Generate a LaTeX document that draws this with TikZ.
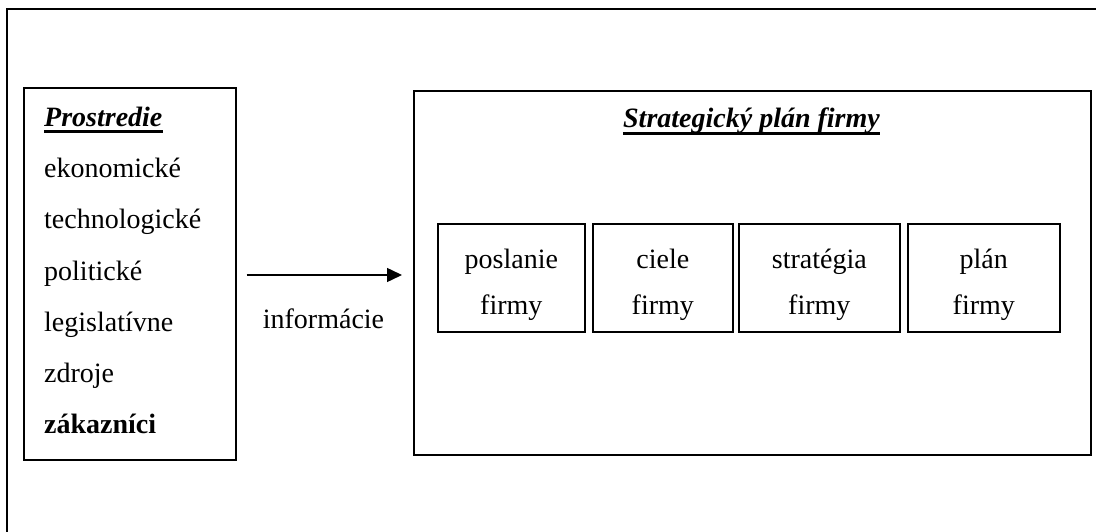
\documentclass[tikz,border=0pt]{standalone}
\usepackage{fontspec}
\setmainfont{Liberation Serif}
\usetikzlibrary{arrows.meta}
\begin{document}
\begin{tikzpicture}[x=1pt,y=-1pt,
  boxframe/.style={draw, line width=1.6pt, inner sep=0pt, anchor=north west},
  txt/.style={inner sep=0pt, anchor=base, font=\fontsize{28}{34}\selectfont},
  leftxt/.style={txt, anchor=base west},
  heading/.style={txt, font=\fontsize{28}{34}\selectfont\bfseries\itshape},
  uline/.style={line width=2.6pt},
  flow/.style={line width=1.5pt, -{Triangle[length=15pt,width=14pt]}}]
\useasboundingbox (0,0) rectangle (1096,532);

% outer frame (only its top and left sides fall on the page)
\draw[line width=1.6pt] (1110,9) -- (7,9) -- (7,545);

% environment box
\node[boxframe, minimum width=212pt, minimum height=372pt] (env) at (23,87) {};
\node[heading, anchor=base west] (envtitle) at (44,127) {Prostredie};
\draw[uline] ([yshift=-4.5pt]envtitle.base west) -- ([yshift=-4.5pt]envtitle.base east);
\node[leftxt] (e1) at (44,178) {ekonomické};
\node[leftxt] (e2) at (44,229) {technologické};
\node[leftxt] (e3) at (44,280) {politické};
\node[leftxt] (e4) at (44,331) {legislatívne};
\node[leftxt] (e5) at (44,382) {zdroje};
\node[leftxt, font=\fontsize{28}{34}\selectfont\bfseries] (e6) at (44,433) {zákazníci};

% strategic plan box
\node[boxframe, minimum width=677pt, minimum height=364pt] (plan) at (413,90) {};
\node[heading] (plantitle) at (751.5,128) {Strategický plán firmy};
\draw[uline] ([yshift=-5.5pt]plantitle.base west) -- ([yshift=-5.5pt]plantitle.base east);

% the four parts of the plan
\node[boxframe, minimum width=147pt, minimum height=108pt] (b1) at (437,223) {};
\node[boxframe, minimum width=140pt, minimum height=108pt] (b2) at (592,223) {};
\node[boxframe, minimum width=161pt, minimum height=108pt] (b3) at (738,223) {};
\node[boxframe, minimum width=152pt, minimum height=108pt] (b4) at (907,223) {};

\coordinate (top) at (0,269);
\coordinate (bot) at (0,314);
\node[txt] (b1a) at (b1.center |- top) {poslanie};
\node[txt] (b1b) at (b1.center |- bot) {firmy};
\node[txt] (b2a) at (b2.center |- top) {ciele};
\node[txt] (b2b) at (b2.center |- bot) {firmy};
\node[txt] (b3a) at (b3.center |- top) {stratégia};
\node[txt] (b3b) at (b3.center |- bot) {firmy};
\node[txt] (b4a) at (b4.center |- top) {plán};
\node[txt] (b4b) at (b4.center |- bot) {firmy};

% information flow
\coordinate (ay) at (0,275);
\draw[flow, shorten <=10pt, shorten >=11pt] (env.east |- ay) -- (plan.west |- ay);
\node[txt] (info) at (323.5,328) {informácie};
\end{tikzpicture}
\end{document}
